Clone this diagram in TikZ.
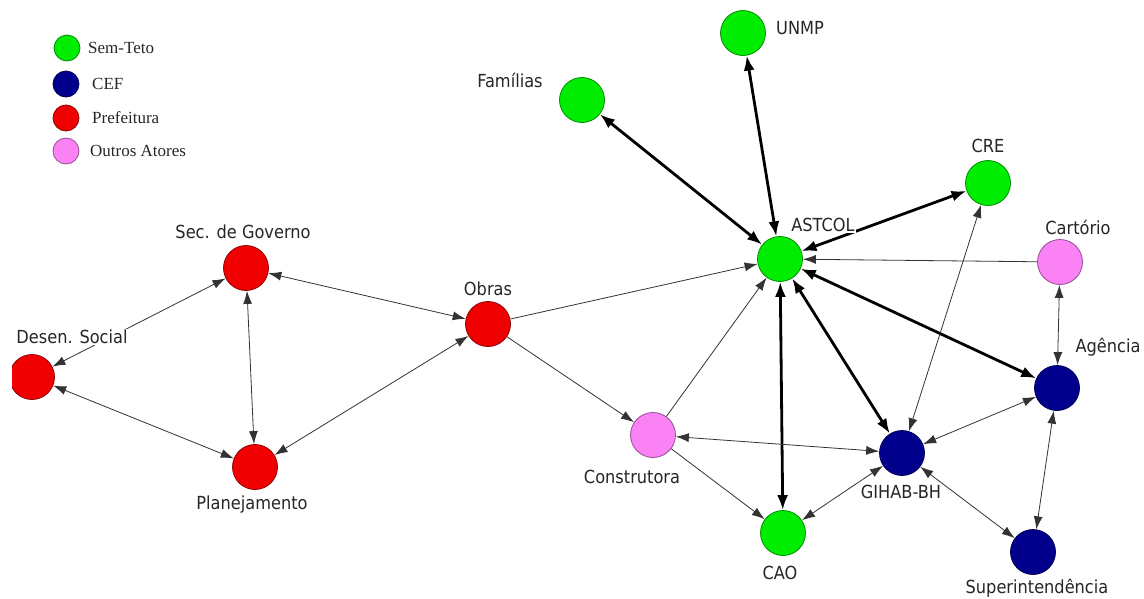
\documentclass[tikz,border=0pt]{standalone}
\usepackage{fontspec}
\setmainfont{DejaVu Sans Condensed}
\newfontfamily\legendfont{Liberation Serif}
\usetikzlibrary{arrows.meta}

\definecolor{semteto}{RGB}{0,236,0}
\definecolor{cef}{RGB}{0,0,140}
\definecolor{prefeitura}{RGB}{240,0,0}
\definecolor{outros}{RGB}{250,130,245}

\begin{document}
\begin{tikzpicture}[x=1pt,y=-1pt,
	actor/.style={circle,minimum size=45pt,inner sep=0pt,fill=#1,draw=#1!60!black,line width=0.8pt},
	key/.style={circle,minimum size=26pt,inner sep=0pt,fill=#1,draw=#1!60!black,line width=0.8pt},
	lbl/.style={fill=white,inner sep=1pt,text=black!85,font=\fontsize{18}{20}\selectfont},
	keytext/.style={anchor=west,inner sep=0pt,text=black!85,font=\legendfont\fontsize{17}{19}\selectfont},
	tie/.style={line width=0.8pt,draw=black!80,>={Latex[length=13pt,width=9pt]}},
	bond/.style={line width=2.8pt,draw=black,>={Latex[length=15pt,width=11pt]}}]
	\useasboundingbox (0,0) rectangle (1144,598);
	\clip (12,0) rectangle (1144,598);

	%legend
	\node[key=semteto] (key1) at (67,48) {};
	\node[key=cef] (key2) at (66,84) {};
	\node[key=prefeitura] (key3) at (66,118) {};
	\node[key=outros] (key4) at (66,151) {};
	\node[keytext] at (88,48) {Sem-Teto};
	\node[keytext] at (92,84) {CEF};
	\node[keytext] at (92,118) {Prefeitura};
	\node[keytext] at (90,151) {Outros Atores};

	%actors
	\node[actor=semteto] (familias) at (582,100) {};
	\node[actor=semteto] (unmp) at (743,33) {};
	\node[actor=semteto] (astcol) at (780,259) {};
	\node[actor=semteto] (cre) at (988,183) {};
	\node[actor=outros] (cartorio) at (1060,262) {};
	\node[actor=cef] (agencia) at (1057,388) {};
	\node[actor=cef] (gihab) at (902,453) {};
	\node[actor=cef] (super) at (1033,552) {};
	\node[actor=outros] (construtora) at (653,435) {};
	\node[actor=semteto] (cao) at (783,533) {};
	\node[actor=prefeitura] (secgov) at (246,268) {};
	\node[actor=prefeitura] (obras) at (488,324) {};
	\node[actor=prefeitura] (desen) at (32,377) {};
	\node[actor=prefeitura] (planej) at (255,467) {};

	%strong ties
	\draw[bond,<->] (familias) -- (astcol);
	\draw[bond,<->] (unmp) -- (astcol);
	\draw[bond,<->] (cre) -- (astcol);
	\draw[bond,<->] (agencia) -- (astcol);
	\draw[bond,<->] (gihab) -- (astcol);
	\draw[bond,<->] (cao) -- (astcol);

	%weak ties
	\draw[tie,->] (cartorio) -- (astcol);
	\draw[tie,->] (obras) -- (astcol);
	\draw[tie,->] (construtora) -- (astcol);
	\draw[tie,->] (obras) -- (construtora);
	\draw[tie,->] (construtora) -- (cao);
	\draw[tie,<->] (construtora) -- (gihab);
	\draw[tie,<->] (cao) -- (gihab);
	\draw[tie,<->] (cre) -- (gihab);
	\draw[tie,<->] (agencia) -- (gihab);
	\draw[tie,<->] (cartorio) -- (agencia);
	\draw[tie,<->] (agencia) -- (super);
	\draw[tie,<->] (gihab) -- (super);
	\draw[tie,<->] (secgov) -- (obras);
	\draw[tie,<->] (secgov) -- (planej);
	\draw[tie,<->] (desen) -- (secgov);
	\draw[tie,<->] (desen) -- (planej);
	\draw[tie,<->] (obras) -- (planej);

	%labels
	\node[lbl] (familias-txt) at (510,80) {Famílias};
	\node[lbl] (unmp-txt) at (800,28) {UNMP};
	\node[lbl] (astcol-txt) at (823,225) {ASTCOL};
	\node[lbl] (cre-txt) at (988,146) {CRE};
	\node[lbl] (cartorio-txt) at (1078,227) {Cartório};
	\node[lbl] (agencia-txt) at (1108,347) {Agência};
	\node[lbl] (gihab-txt) at (901,492) {GIHAB-BH};
	\node[lbl] (super-txt) at (1037,588) {Superintendência};
	\node[lbl] (construtora-txt) at (632,477) {Construtora};
	\node[lbl] (cao-txt) at (780,573) {CAO};
	\node[lbl] (secgov-txt) at (243,232) {Sec. de Governo};
	\node[lbl] (obras-txt) at (488,289) {Obras};
	\node[lbl] (desen-txt) at (72,337) {Desen. Social};
	\node[lbl] (planej-txt) at (252,505) {Planejamento};
\end{tikzpicture}
\end{document}
